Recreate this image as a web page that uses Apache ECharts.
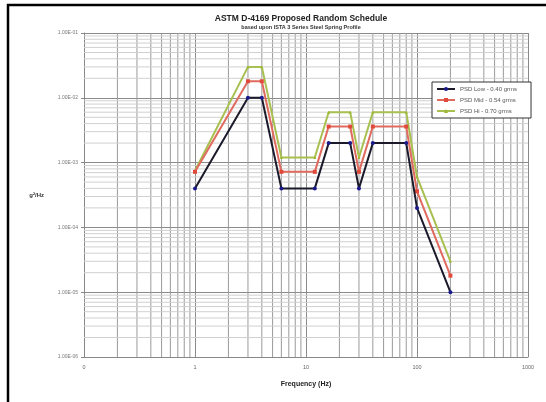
<!DOCTYPE html>
<html>
<head>
<meta charset="utf-8">
<script src="https://cdn.jsdelivr.net/npm/echarts@6/dist/echarts.min.js"></script>
<style>
  html, body { margin: 0; padding: 0; background: #fff; }
  #chart { width: 546px; height: 402px; }
</style>
</head>
<body>
<div id="chart"></div>
<script>
// frequency breakpoints (Hz)
const freq = [1, 3, 4, 6, 12, 16, 25, 30, 40, 80, 100, 200];
// PSD levels g^2/Hz
const psdLow = [0.0004, 0.01, 0.01, 0.0004, 0.0004, 0.002, 0.002, 0.0004, 0.002, 0.002, 0.0002, 0.00001];
const psdMid = [0.00072, 0.018, 0.018, 0.00072, 0.00072, 0.0036, 0.0036, 0.00072, 0.0036, 0.0036, 0.00036, 0.000018];
const psdHi = [0.00075, 0.03, 0.03, 0.0012, 0.0012, 0.006, 0.006, 0.0012, 0.006, 0.006, 0.0006, 0.00003];
const seriesNames = ['PSD Low - 0.40 grms', 'PSD Mid - 0.54 grms', 'PSD Hi - 0.70 grms'];

// minor grid positions for the log axes
const xDecades = [0.1, 1, 10, 100];
const yDecades = [1e-6, 1e-5, 1e-4, 1e-3, 1e-2];
const minorSteps = [2, 3, 4, 5, 6, 7, 8, 9];
const xRange = [0.1, 1000];
const yRange = [1e-6, 1e-1];

const xMinor = [];
xDecades.forEach(d => minorSteps.forEach(m => xMinor.push(+(d * m).toPrecision(3))));
const yMinor = [];
yDecades.forEach(d => minorSteps.forEach(m => yMinor.push(+(d * m).toPrecision(3))));

const pair = (xs, ys) => xs.map((x, i) => [x, ys[i]]);

// grid helper series: each minor line is a 2-point line drawn through the axes
const gridSeries = [];
xMinor.forEach(x => gridSeries.push({
    type: 'line', silent: true, z: 1, symbol: 'none',
    data: [[x, yRange[0]], [x, yRange[1]]],
    lineStyle: { color: '#9a9a9a', width: 1 }
}));
yMinor.forEach(y => gridSeries.push({
    type: 'line', silent: true, z: 1, symbol: 'none',
    data: [[xRange[0], y], [xRange[1], y]],
    lineStyle: { color: '#d0d0d0', width: 1 }
}));

const chart = echarts.init(document.getElementById('chart'));
chart.setOption({
    animation: false,
    backgroundColor: '#fff',
    textStyle: { fontFamily: 'Liberation Sans, Arial, sans-serif' },
    title: {
        text: 'ASTM D-4169 Proposed Random Schedule',
        subtext: 'based upon ISTA 3 Series Steel Spring Profile',
        left: 296,
        textAlign: 'center',
        top: 9,
        itemGap: 1,
        textStyle: { fontSize: 8.5, fontWeight: 'bold', color: '#222' },
        subtextStyle: { fontSize: 5.5, fontWeight: 'bold', color: '#333' }
    },
    grid: { left: 84, right: 18, top: 33, bottom: 45 },
    legend: {
        data: seriesNames,
        orient: 'vertical',
        left: 432,
        top: 82,
        itemWidth: 18,
        itemHeight: 5,
        itemGap: 5,
        padding: [4, 14, 4, 4],
        borderColor: '#333',
        borderWidth: 1,
        backgroundColor: '#fff',
        textStyle: { fontSize: 6, color: '#555' }
    },
    xAxis: {
        type: 'log',
        logBase: 10,
        min: xRange[0],
        max: xRange[1],
        name: 'Frequency (Hz)',
        nameLocation: 'middle',
        nameGap: 24,
        nameTextStyle: { fontSize: 7, fontWeight: 'bold', color: '#222' },
        axisLine: { lineStyle: { color: '#888' } },
        axisTick: { show: false },
        axisLabel: {
            fontSize: 5.5, color: '#666', margin: 7,
            formatter: v => (v < 1 ? '0' : String(Math.round(v)))
        },
        splitLine: { show: true, lineStyle: { color: '#8a8a8a', width: 1 } }
    },
    yAxis: {
        type: 'log',
        logBase: 10,
        min: yRange[0],
        max: yRange[1],
        name: 'g²/Hz',
        nameLocation: 'middle',
        nameRotate: 0,
        nameGap: 40,
        nameTextStyle: { fontSize: 6, fontWeight: 'bold', color: '#333' },
        axisLine: { show: true, lineStyle: { color: '#888' } },
        axisTick: { show: true, inside: false, length: 3, lineStyle: { color: '#888' } },
        axisLabel: {
            fontSize: 5, color: '#777', margin: 6,
            formatter: v => {
                const e = Math.round(Math.log10(v));
                return '1.00E' + (e < 0 ? '-' : '+') + String(Math.abs(e)).padStart(2, '0');
            }
        },
        splitLine: { show: true, lineStyle: { color: '#8a8a8a', width: 1 } }
    },
    graphic: [
        { type: 'rect', shape: { x: 8, y: 5, width: 560, height: 420 },
          style: { fill: 'none', stroke: '#000', lineWidth: 2.5 }, silent: true }
    ],
    series: gridSeries.concat([
        {
            name: seriesNames[0], type: 'line', z: 5,
            data: pair(freq, psdLow),
            symbol: 'circle', symbolSize: 4,
            itemStyle: { color: '#1a1a8c' },
            lineStyle: { color: '#1a1a2a', width: 2 }
        },
        {
            name: seriesNames[1], type: 'line', z: 4,
            data: pair(freq, psdMid),
            symbol: 'rect', symbolSize: 4,
            itemStyle: { color: '#e04a3a' },
            lineStyle: { color: '#e06a5e', width: 2 }
        },
        {
            name: seriesNames[2], type: 'line', z: 3,
            data: pair(freq, psdHi),
            symbol: 'triangle', symbolSize: 3,
            itemStyle: { color: '#9ab830' },
            lineStyle: { color: '#a8c050', width: 2 }
        }
    ])
});
</script>
</body>
</html>
